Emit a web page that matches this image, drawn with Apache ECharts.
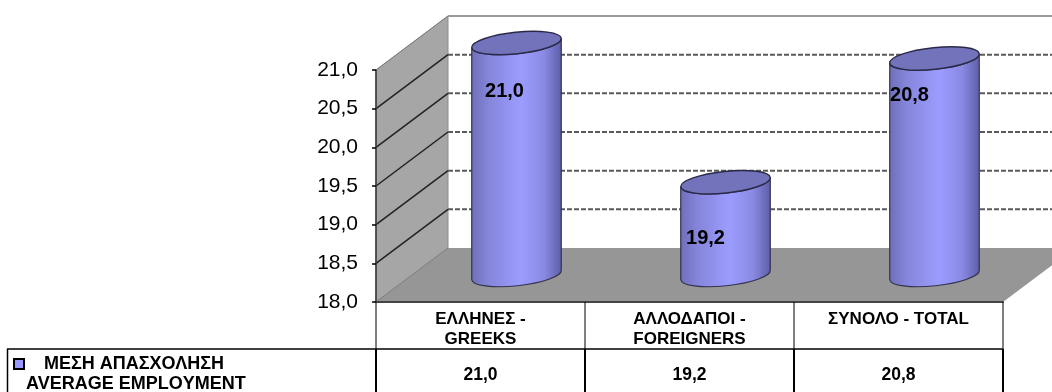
<!DOCTYPE html>
<html>
<head>
<meta charset="utf-8">
<style>html,body{margin:0;padding:0;background:#fff}#c{width:1052px;height:392px}</style>
<script src="https://cdn.jsdelivr.net/npm/echarts@6/dist/echarts.min.js"></script>
</head>
<body>
<div id="c"></div>
<script>
const categories = ['ΕΛΛΗΝΕΣ -\nGREEKS', 'ΑΛΛΟΔΑΠΟΙ -\nFOREIGNERS', 'ΣΥΝΟΛΟ - TOTAL'];
const values = [21.0, 19.2, 20.8];
const seriesName = 'ΜΕΣΗ ΑΠΑΣΧΟΛΗΣΗ';
const seriesNameLine2 = 'AVERAGE EMPLOYMENT';
const yMin = 18, yMax = 21, yStep = 0.5;
const yTicks = [18, 18.5, 19, 19.5, 20, 20.5, 21];

const FONT = '"Liberation Sans", Arial, sans-serif';
const DEPTH_X = 72, DEPTH_Y = -54;
const fmt = v => v.toFixed(1).replace('.', ',');
const labelOffsetX = [-12, -20, -25];
const labelOffsetY = [48, 56, 37.5];

const chart = echarts.init(document.getElementById('c'), null, {renderer: 'canvas'});

function renderWalls(params, api) {
  const cs = params.coordSys;
  const L = cs.x, R = cs.x + cs.width, B = api.coord([0, yMin])[1], T = api.coord([0, yMax])[1];
  const ch = [];
  ch.push({type: 'polygon', shape: {points: [[L, B], [L, T], [L + DEPTH_X, T + DEPTH_Y], [L + DEPTH_X, B + DEPTH_Y]]},
    style: {fill: '#a6a6a6', stroke: '#8c8c8c', lineWidth: 1}});
  ch.push({type: 'polygon', shape: {points: [[L, B], [R, B], [R + DEPTH_X, B + DEPTH_Y], [L + DEPTH_X, B + DEPTH_Y]]},
    style: {fill: '#969696'}});
  yTicks.forEach((v) => {
    const y = api.coord([0, v])[1];
    const isEdge = v === yMin || v === yMax;
    ch.push({type: 'line', shape: {x1: L, y1: y, x2: L + DEPTH_X, y2: y + DEPTH_Y},
      style: {stroke: isEdge ? '#7f7f7f' : '#222', lineWidth: isEdge ? 1 : 1.5}});
    if (v !== yMin) {
      ch.push({type: 'line', shape: {x1: L + DEPTH_X, y1: y + DEPTH_Y, x2: R + DEPTH_X, y2: y + DEPTH_Y},
        style: {stroke: v === yMax ? '#9a9a9a' : '#5a5a5a', lineWidth: 2,
          lineDash: v === yMax ? null : [5, 2]}});
    }
  });
  return {type: 'group', children: ch};
}

function renderCylinder(params, api) {
  const i = api.value(0);
  const v = api.value(1);
  const base = api.coord([i, yMin]);
  const top = api.coord([i, v]);
  const cx = base[0] + DEPTH_X / 2;
  const by = base[1] + DEPTH_Y / 2, ty = top[1] + DEPTH_Y / 2;
  const rx = 45, ry = 10.8, rot = -6;
  const sx = rx * Math.cos(rot * Math.PI / 180), sy = rx * Math.sin(rot * Math.PI / 180);
  const body = `M${cx - sx} ${ty - sy} L${cx - sx} ${by - sy} A${rx} ${ry} ${rot} 0 0 ${cx + sx} ${by + sy} L${cx + sx} ${ty + sy} A${rx} ${ry} ${rot} 0 1 ${cx - sx} ${ty - sy} Z`;
  const cap = `M${cx - sx} ${ty - sy} A${rx} ${ry} ${rot} 0 1 ${cx + sx} ${ty + sy} A${rx} ${ry} ${rot} 0 1 ${cx - sx} ${ty - sy} Z`;
  const grad = new echarts.graphic.LinearGradient(0, 0, 1, 0, [
    {offset: 0, color: '#6e6eb8'}, {offset: 0.2, color: '#8686dc'}, {offset: 0.55, color: '#9c9cff'},
    {offset: 0.8, color: '#8a8ae4'}, {offset: 1, color: '#5c5ca6'}]);
  return {type: 'group', children: [
    {type: 'path', shape: {pathData: body}, style: {fill: grad, stroke: '#33334f', lineWidth: 1.2}},
    {type: 'path', shape: {pathData: cap}, style: {fill: '#7373bc', stroke: '#2a2a48', lineWidth: 1.4}},
    {type: 'text', x: cx + labelOffsetX[i], y: ty + labelOffsetY[i],
      style: {text: fmt(v), font: 'bold 20px ' + FONT, fill: '#000', align: 'center', verticalAlign: 'middle'}}
  ]};
}

function renderTable(params, api) {
  const cs = params.coordSys;
  const i = api.value(0);
  const x = api.coord([i, yMin])[0];
  const B = api.coord([0, yMin])[1];
  const ch = [{type: 'text', x: x, y: B + 73,
    style: {text: fmt(api.value(1)), font: 'bold 17.5px ' + FONT, fill: '#000', align: 'center', verticalAlign: 'middle'}}];
  if (i === 0) {
    const rowY = B + 47;
    ch.push({type: 'text', x: 26, y: B + 82,
      style: {text: seriesNameLine2, font: 'bold 18px ' + FONT, fill: '#000', align: 'left', verticalAlign: 'middle'}});
    ch.push({type: 'line', shape: {x1: 7, y1: rowY, x2: cs.x + cs.width, y2: rowY}, style: {stroke: '#000', lineWidth: 1.5}});
    ch.push({type: 'line', shape: {x1: 7.5, y1: rowY, x2: 7.5, y2: 392}, style: {stroke: '#000', lineWidth: 1.5}});
    for (let k = 0; k <= categories.length; k++) {
      const bx = cs.x + cs.width * k / categories.length;
      ch.push({type: 'line', shape: {x1: bx, y1: B, x2: bx, y2: rowY}, style: {stroke: '#000', lineWidth: 1}});
      ch.push({type: 'line', shape: {x1: bx, y1: rowY, x2: bx, y2: 392}, style: {stroke: '#000', lineWidth: 2}});
    }
  }
  return {type: 'group', children: ch};
}

chart.setOption({
  animation: false,
  backgroundColor: '#fff',
  textStyle: {fontFamily: FONT},
  grid: {left: 376, top: 70, width: 627, height: 232, containLabel: false},
  legend: {
    left: 13, top: 354, padding: 0, itemWidth: 10, itemHeight: 10, itemGap: 0,
    data: [{name: seriesName, icon: 'rect'}], selectedMode: false,
    formatter: n => '   ' + n,
    textStyle: {fontFamily: FONT, fontWeight: 'bold', fontSize: 18, lineHeight: 20, color: '#000'}
  },
  xAxis: {
    type: 'category', data: categories, z: 5,
    axisLine: {lineStyle: {color: '#444', width: 2}},
    axisTick: {show: false},
    axisLabel: {interval: 0, margin: 7, fontFamily: FONT, fontWeight: 'bold', fontSize: 17, lineHeight: 20, color: '#000', verticalAlign: 'top'}
  },
  yAxis: {
    type: 'value', min: yMin, max: yMax, interval: yStep, z: 5,
    splitLine: {show: false},
    axisLine: {show: true, lineStyle: {color: '#333', width: 1.5}},
    axisTick: {show: true, length: 4, lineStyle: {color: '#000', width: 1.5}},
    axisLabel: {margin: 18, fontFamily: FONT, fontSize: 21, color: '#000', formatter: v => fmt(v)}
  },
  series: [
    {type: 'custom', name: 'walls', z: 1, silent: true, renderItem: renderWalls, data: [[0, yMin]], clip: false},
    {type: 'custom', name: seriesName, z: 3, itemStyle: {color: '#9999ff', borderColor: '#000', borderWidth: 1},
      renderItem: renderCylinder, encode: {x: 0, y: 1}, data: values.map((v, i) => [i, v]), clip: false},
    {type: 'custom', name: 'table', z: 6, silent: true, renderItem: renderTable,
      encode: {x: 0, y: 1}, data: values.map((v, i) => [i, v]), clip: false}
  ]
});
</script>
</body>
</html>
